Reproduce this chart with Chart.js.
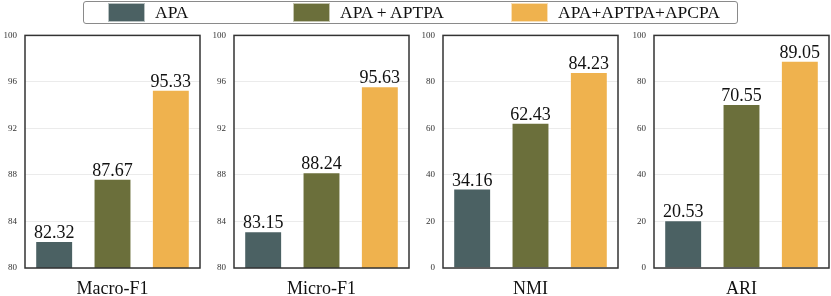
<!DOCTYPE html>
<html>
<head>
<meta charset="utf-8">
<script src="https://cdn.jsdelivr.net/npm/chart.js@4.4.0/dist/chart.umd.min.js"></script>
<style>
  body { margin: 0; background: #fff; width: 831px; height: 296px; position: relative; overflow: hidden; font-family: "Liberation Serif", serif; }
  .legend { position: absolute; left: 83px; top: 1px; width: 655px; height: 23px; border: 1px solid #8a8a8a; border-radius: 3px; box-sizing: border-box; background: #fff; z-index: 2; }
  .item { position: absolute; top: 1px; height: 19px; display: flex; align-items: center; }
  .sw { width: 37px; height: 19px; box-sizing: border-box; border: 1px solid rgba(255,255,255,0.6); margin-right: 10px; }
  .item span { font-size: 17.5px; color: #111; line-height: 19px; }
  canvas { position: absolute; top: 22px; }
</style>
</head>
<body>
<div class="legend">
  <div class="item" style="left:24px"><div class="sw" style="background:#4b6163"></div><span>APA</span></div>
  <div class="item" style="left:209px"><div class="sw" style="background:#6b6f3b"></div><span>APA + APTPA</span></div>
  <div class="item" style="left:427px"><div class="sw" style="background:#efb24e"></div><span>APA+APTPA+APCPA</span></div>
</div>
<canvas id="c0" width="203" height="274" style="left:0px"></canvas>
<canvas id="c1" width="203" height="274" style="left:209px"></canvas>
<canvas id="c2" width="203" height="274" style="left:418px"></canvas>
<canvas id="c3" width="203" height="274" style="left:629px"></canvas>
<script>
const metrics = ['Macro-F1', 'Micro-F1', 'NMI', 'ARI'];
const seriesNames = ['APA', 'APA + APTPA', 'APA+APTPA+APCPA'];
const apa = [82.32, 83.15, 34.16, 20.53];
const apaAptpa = [87.67, 88.24, 62.43, 70.55];
const apaAll = [95.33, 95.63, 84.23, 89.05];
const yMin = [80, 80, 0, 0];
const yMax = [100, 100, 100, 100];
const yStep = [4, 4, 20, 20];
const colors = ['#4b6163', '#6b6f3b', '#efb24e'];

const serif = "'Liberation Serif', 'Times New Roman', serif";

// frame around the plot + value labels above bars
const boxAndLabels = {
  id: 'boxAndLabels',
  afterDatasetsDraw(chart) {
    const ctx = chart.ctx;
    const a = chart.chartArea;
    ctx.save();
    ctx.font = '18px ' + serif;
    ctx.fillStyle = '#111';
    ctx.textAlign = 'center';
    ctx.textBaseline = 'alphabetic';
    chart.data.datasets.forEach((ds, i) => {
      chart.getDatasetMeta(i).data.forEach((bar, j) => {
        ctx.fillText(ds.data[j].toFixed(2), bar.x, bar.y - 3);
      });
    });
    ctx.strokeStyle = '#333';
    ctx.lineWidth = 1.5;
    ctx.strokeRect(a.left, a.top, a.right - a.left, a.bottom - a.top);
    ctx.restore();
  }
};

const allSeries = [apa, apaAptpa, apaAll];

metrics.forEach((m, k) => {
  const ctx = document.getElementById('c' + k).getContext('2d');
  new Chart(ctx, {
    type: 'bar',
    data: {
      labels: [m],
      datasets: allSeries.map((s, i) => ({
        label: seriesNames[i],
        data: [s[k]],
        backgroundColor: colors[i],
        borderColor: 'rgba(255,255,255,0.55)',
        borderWidth: 1,
        categoryPercentage: 1.0,
        barPercentage: 0.65
      }))
    },
    options: {
      responsive: false,
      animation: false,
      layout: { padding: { top: 5, right: 3, left: 0, bottom: 0 } },
      plugins: { legend: { display: false }, tooltip: { enabled: false } },
      scales: {
        x: {
          grid: { display: false, drawTicks: false },
          border: { display: false },
          ticks: { font: { family: serif, size: 18 }, color: '#111', padding: 10 },
          afterFit(scale) { scale.height = 28; }
        },
        y: {
          min: yMin[k],
          max: yMax[k],
          grid: { color: '#ebebeb', lineWidth: 1, drawTicks: false },
          border: { display: false },
          ticks: { stepSize: yStep[k], font: { family: serif, size: 9 }, color: '#333', padding: 8 },
          afterFit(scale) { scale.width = 25; }
        }
      }
    },
    plugins: [boxAndLabels]
  });
});
</script>
</body>
</html>
